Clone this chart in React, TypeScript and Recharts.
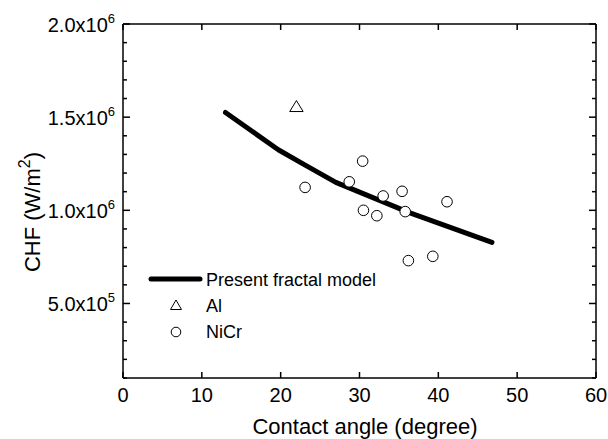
import { ComposedChart, Line, Scatter, XAxis, YAxis, Legend } from "recharts";

const FONT = '"Liberation Sans", Arial, Helvetica, sans-serif';

// model curve
const modelAngle = [13, 19.7, 23, 27, 36.4, 46.8];
const modelChf = [1525000, 1325000, 1245000, 1150000, 986000, 828000];

// measured points
const alAngle = [22];
const alChf = [1557000];

const nicrAngle = [23.1, 30.4, 28.7, 33.0, 35.4, 30.5, 32.2, 35.8, 41.1, 36.2, 39.3];
const nicrChf = [1123000, 1264000, 1153000, 1077000, 1102000, 1000000, 971000, 993000, 1046000, 730000, 753000];

const xTicks = [0, 10, 20, 30, 40, 50, 60];
const yTicks = [
  100000, 200000, 300000, 400000, 500000, 600000, 700000, 800000, 900000, 1000000,
  1100000, 1200000, 1300000, 1400000, 1500000, 1600000, 1700000, 1800000, 1900000, 2000000,
];
const yMajor = [500000, 1000000, 1500000, 2000000];
const yMajorBase = ["5.0x10", "1.0x10", "1.5x10", "2.0x10"];
const yMajorExp = ["5", "6", "6", "6"];

const legendLabels = ["Present fractal model", "Al", "NiCr"];

const modelData = modelAngle.map((x, i) => ({ x, y: modelChf[i] }));
const alData = alAngle.map((x, i) => ({ x, y: alChf[i] }));
const nicrData = nicrAngle.map((x, i) => ({ x, y: nicrChf[i] }));

function BottomTick(props: any) {
  const { x, y, payload } = props;
  return (
    <g>
      <line x1={x} x2={x} y1={y} y2={y - 6} stroke="#000" strokeWidth={1.5} />
      <text x={x} y={y + 24} textAnchor="middle" fontSize={20} fontFamily={FONT} fill="#000">
        {payload.value}
      </text>
    </g>
  );
}

function TopTick(props: any) {
  const { x, y } = props;
  return <line x1={x} x2={x} y1={y} y2={y + 6} stroke="#000" strokeWidth={1.5} />;
}

function LeftTick(props: any) {
  const { x, y, payload } = props;
  const i = yMajor.indexOf(payload.value);
  const major = i >= 0;
  return (
    <g>
      <line x1={x} x2={x + (major ? 7 : 4)} y1={y} y2={y} stroke="#000" strokeWidth={1.5} />
      {major && (
        <text x={x - 8} y={y + 7.5} textAnchor="end" fontSize={20} fontFamily={FONT} fill="#000">
          {yMajorBase[i]}
          <tspan dy={-8.5} fontSize={13}>
            {yMajorExp[i]}
          </tspan>
        </text>
      )}
    </g>
  );
}

function RightTick(props: any) {
  const { x, y, payload } = props;
  const major = yMajor.indexOf(payload.value) >= 0;
  return <line x1={x} x2={x - (major ? 7 : 4)} y1={y} y2={y} stroke="#000" strokeWidth={1.5} />;
}

function OpenCircle(props: any) {
  return <circle cx={props.cx} cy={props.cy} r={5.3} fill="#fff" stroke="#000" strokeWidth={1} />;
}

function OpenTriangle(props: any) {
  const { cx, cy } = props;
  return (
    <polygon
      points={`${cx - 6.7},${cy + 5} ${cx + 6.7},${cy + 5} ${cx},${cy - 6}`}
      fill="#fff"
      stroke="#000"
      strokeWidth={1}
    />
  );
}

function NoShape() {
  return <g />;
}

function YTitle(props: any) {
  const cx = 40;
  const cy = 212;
  return (
    <text
      x={cx}
      y={cy}
      textAnchor="middle"
      fontSize={22}
      fontFamily={FONT}
      fill="#000"
      transform={`rotate(-90 ${cx} ${cy})`}
    >
      CHF (W/m
      <tspan dy={-10} fontSize={16}>
        2
      </tspan>
      <tspan dy={10}>)</tspan>
    </text>
  );
}

function XTitle(props: any) {
  return (
    <text x={365} y={434} textAnchor="middle" fontSize={22} fontFamily={FONT} fill="#000">
      Contact angle (degree)
    </text>
  );
}

function renderLegend() {
  return (
    <svg width={260} height={90} style={{ display: "block" }}>
      <line x1={11} x2={60} y1={17} y2={17} stroke="#000" strokeWidth={5} strokeLinecap="round" />
      <text x={66} y={24} fontSize={18} fontFamily={FONT} fill="#000">
        {legendLabels[0]}
      </text>
      <polygon points="30.5,47.5 41.5,47.5 36,38" fill="#fff" stroke="#000" strokeWidth={1} />
      <text x={66} y={50} fontSize={18} fontFamily={FONT} fill="#000">
        {legendLabels[1]}
      </text>
      <circle cx={36} cy={70} r={4.8} fill="#fff" stroke="#000" strokeWidth={1} />
      <text x={66} y={76} fontSize={18} fontFamily={FONT} fill="#000">
        {legendLabels[2]}
      </text>
    </svg>
  );
}

export default function App() {
  return (
    <div style={{ position: "absolute", left: 0, top: 0, background: "#fff" }}>
      <ComposedChart width={608} height={439} margin={{ top: 23, right: 11, bottom: 0, left: 0 }}>
        <XAxis
          dataKey="x"
          type="number"
          domain={[0, 60]}
          ticks={xTicks}
          interval={0}
          height={61}
          tickSize={0}
          tickMargin={0}
          tickLine={false}
          tick={<BottomTick />}
          axisLine={{ stroke: "#000", strokeWidth: 1.5 }}
          allowDataOverflow
          label={<XTitle />}
        />
        <XAxis
          xAxisId="top"
          dataKey="x"
          orientation="top"
          type="number"
          domain={[0, 60]}
          ticks={xTicks}
          interval={0}
          height={1}
          tickSize={0}
          tickMargin={0}
          tickLine={false}
          tick={<TopTick />}
          axisLine={{ stroke: "#000", strokeWidth: 1.5 }}
          allowDataOverflow
        />
        <YAxis
          dataKey="y"
          type="number"
          domain={[100000, 2000000]}
          ticks={yTicks}
          interval={0}
          width={123}
          tickSize={0}
          tickMargin={0}
          tickLine={false}
          tick={<LeftTick />}
          axisLine={{ stroke: "#000", strokeWidth: 1.5 }}
          allowDataOverflow
          label={<YTitle />}
        />
        <YAxis
          yAxisId="right"
          dataKey="y"
          orientation="right"
          type="number"
          domain={[100000, 2000000]}
          ticks={yTicks}
          interval={0}
          width={1}
          tickSize={0}
          tickMargin={0}
          tickLine={false}
          tick={<RightTick />}
          axisLine={{ stroke: "#000", strokeWidth: 1.5 }}
          allowDataOverflow
        />
        <Legend
          layout="vertical"
          align="center"
          verticalAlign="middle"
          content={renderLegend}
          wrapperStyle={{ position: "absolute", left: 140, top: 262, width: 260, height: 90 }}
        />
        <Line
          data={modelData}
          dataKey="y"
          stroke="#000"
          strokeWidth={5}
          strokeLinecap="round"
          strokeLinejoin="round"
          dot={false}
          activeDot={false}
          type="linear"
          isAnimationActive={false}
          legendType="none"
        />
        <Scatter data={alData} dataKey="y" shape={<OpenTriangle />} isAnimationActive={false} />
        <Scatter data={nicrData} dataKey="y" shape={<OpenCircle />} isAnimationActive={false} />
        <Scatter
          data={nicrData}
          dataKey="y"
          xAxisId="top"
          yAxisId="right"
          shape={<NoShape />}
          legendType="none"
          isAnimationActive={false}
        />
      </ComposedChart>
    </div>
  );
}
